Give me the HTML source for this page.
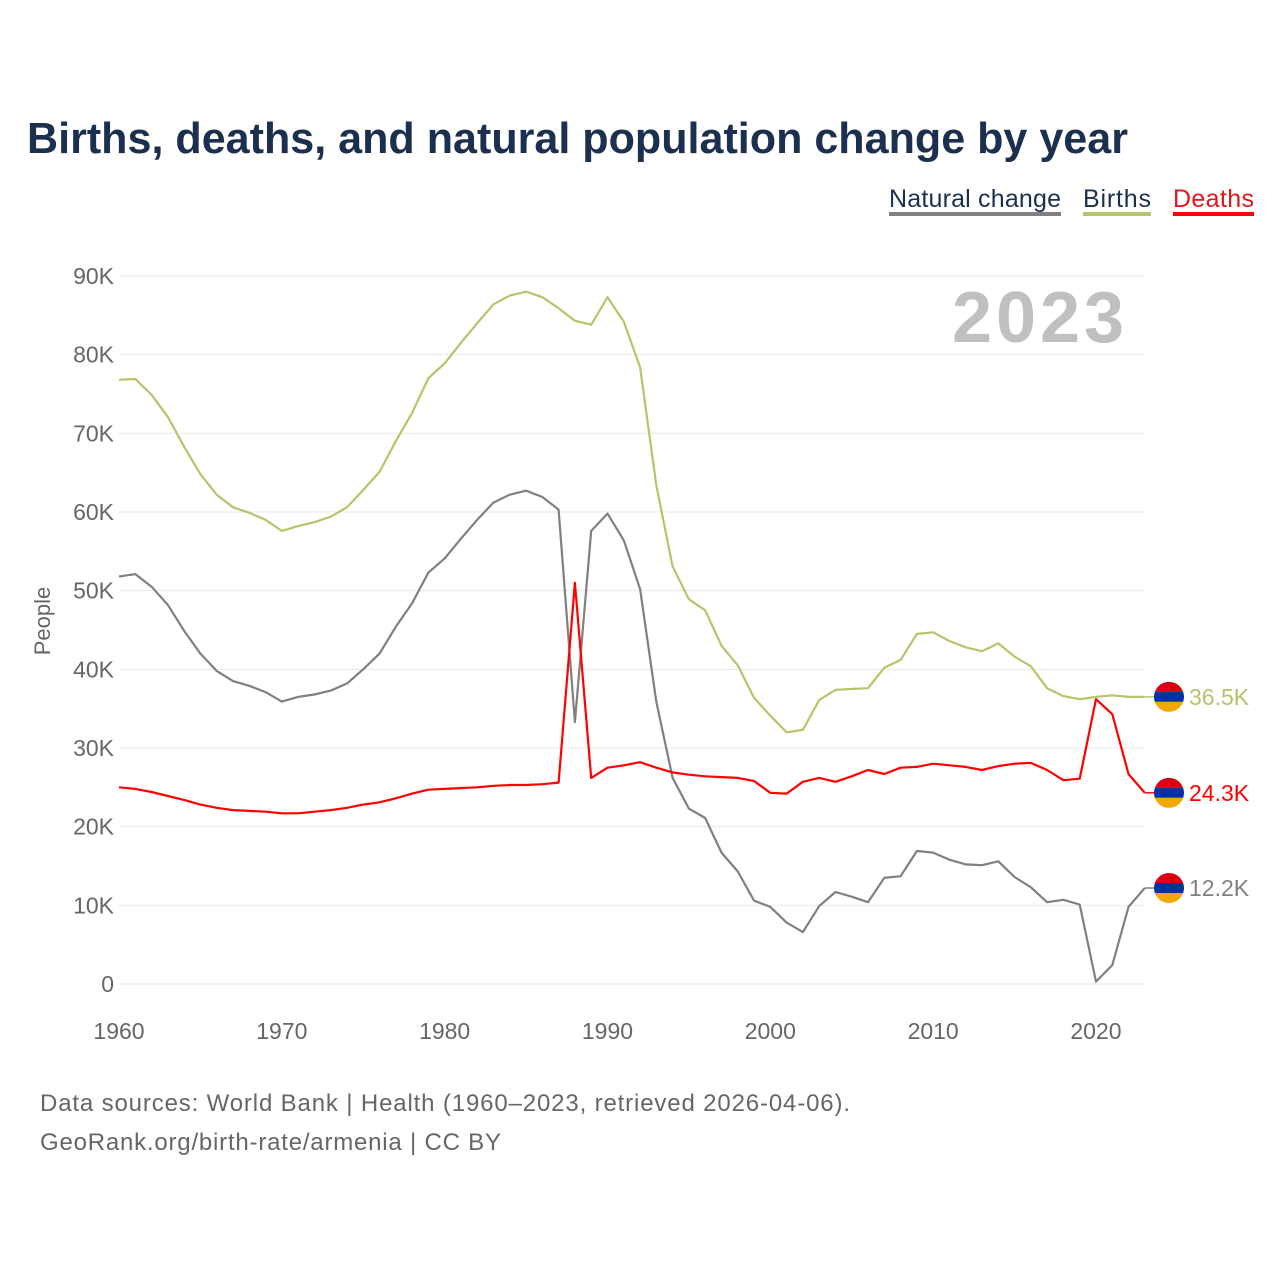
<!DOCTYPE html>
<html><head><meta charset="utf-8"><style>
body{margin:0;background:#fff;font-family:"Liberation Sans",sans-serif}
svg text{font-family:"Liberation Sans",sans-serif}
</style></head><body>
<svg id="chart" width="1280" height="1280" xmlns="http://www.w3.org/2000/svg">
<text x="27" y="153" font-size="44" font-weight="bold" fill="#1b2f4e" textLength="1101" lengthAdjust="spacingAndGlyphs">Births, deaths, and natural population change by year</text>
<g font-size="25">
<g><text x="889" y="207" fill="#1b2f4e" textLength="172">Natural change</text><rect x="889" y="212" width="172" height="4" fill="#808080"/></g>
<g><text x="1083" y="207" fill="#1b2f4e" textLength="68">Births</text><rect x="1083" y="212" width="68" height="4" fill="#b5c56a"/></g>
<g><text x="1173" y="207" fill="#e8141b" textLength="81">Deaths</text><rect x="1173" y="212" width="81" height="4" fill="#ff0000"/></g>
</g>
<g id="grid"></g>
<g id="yticks" font-size="23" fill="#666"></g>
<g id="xticks" font-size="23" fill="#666"></g>
<text transform="translate(50,621) rotate(-90)" text-anchor="middle" font-size="22" fill="#666">People</text>
<text x="1124" y="342" text-anchor="end" font-size="72" font-weight="bold" fill="#c0c0c0" textLength="172">2023</text>
<g id="series"></g>
<g id="ends"></g>
<text x="40" y="1111" font-size="24" fill="#666" textLength="810">Data sources: World Bank | Health (1960–2023, retrieved 2026-04-06).</text>
<text x="40" y="1150" font-size="24" fill="#666" textLength="461">GeoRank.org/birth-rate/armenia | CC BY</text>
</svg>
<script>
const startYear = 1960;
const births = [76.8,76.9,74.9,72.1,68.3,64.8,62.2,60.6,59.9,59.0,57.6,58.2,58.7,59.4,60.6,62.8,65.1,69.0,72.6,77.0,78.9,81.5,84.0,86.4,87.5,88.0,87.3,85.9,84.3,83.8,87.3,84.2,78.4,63.4,53.1,48.9,47.5,43.0,40.5,36.4,34.1,32.0,32.3,36.1,37.4,37.5,37.6,40.2,41.2,44.5,44.7,43.6,42.8,42.3,43.3,41.6,40.4,37.6,36.6,36.2,36.5,36.7,36.5,36.5];
const deaths = [25.0,24.8,24.4,23.9,23.4,22.8,22.4,22.1,22.0,21.9,21.7,21.7,21.9,22.1,22.4,22.8,23.1,23.6,24.2,24.7,24.8,24.9,25.0,25.2,25.3,25.3,25.4,25.6,51.0,26.2,27.5,27.8,28.2,27.5,26.9,26.6,26.4,26.3,26.2,25.8,24.3,24.2,25.7,26.2,25.7,26.4,27.2,26.7,27.5,27.6,28.0,27.8,27.6,27.2,27.7,28.0,28.1,27.2,25.9,26.1,36.2,34.3,26.7,24.3];
const natural = [51.8,52.1,50.5,48.2,44.9,42.0,39.8,38.5,37.9,37.1,35.9,36.5,36.8,37.3,38.2,40.0,42.0,45.4,48.4,52.3,54.1,56.6,59.0,61.2,62.2,62.7,61.9,60.3,33.3,57.6,59.8,56.4,50.2,35.9,26.2,22.3,21.1,16.7,14.3,10.6,9.8,7.8,6.6,9.9,11.7,11.1,10.4,13.5,13.7,16.9,16.7,15.8,15.2,15.1,15.6,13.6,12.3,10.4,10.7,10.1,0.3,2.4,9.8,12.2];
const yTicks = [0,10,20,30,40,50,60,70,80,90];
const yTickLabels = ["0","10K","20K","30K","40K","50K","60K","70K","80K","90K"];
const xTicks = [1960,1970,1980,1990,2000,2010,2020];
const endLabels = ["36.5K","24.3K","12.2K"];

const NS="http://www.w3.org/2000/svg";
const X=y=>119+(y-1960)*16.283;
const Y=v=>984-v*7.867;
function mk(t,a,p){const e=document.createElementNS(NS,t);for(const k in a)e.setAttribute(k,a[k]);p.appendChild(e);return e;}
const grid=document.getElementById('grid'),yt=document.getElementById('yticks'),xt=document.getElementById('xticks');
yTicks.forEach((v,i)=>{
  const l=mk('line',{x1:119,x2:1144,y1:Y(v),y2:Y(v),stroke:'#e8e8e8','stroke-width':1},grid);
  
  
  const t=mk('text',{x:114,y:Y(v)+8,'text-anchor':'end'},yt);t.textContent=yTickLabels[i];
  
  
});
xTicks.forEach(v=>{
  const t=mk('text',{x:X(v),y:1039,'text-anchor':'middle'},xt);t.textContent=v;
  
  
});
const sg=document.getElementById('series');
function line(arr,col,name){
  const d=arr.map((v,i)=>(i?'L':'M')+X(startYear+i).toFixed(1)+' '+Y(v).toFixed(1)).join(' ');
  const p=mk('path',{d:d,fill:'none',stroke:col,'stroke-width':2.2,'stroke-linejoin':'round'},sg);
  
  
}
line(births,'#b5c56a','births-line');
line(natural,'#808080','natural-change-line');
line(deaths,'#ff0000','deaths-line');
const eg=document.getElementById('ends');
const lastY=startYear+births.length-1;
[[births,'#b5c56a'],[deaths,'#ff0000'],[natural,'#808080']].forEach((s,i)=>{
  const v=s[0][s[0].length-1],cy=Y(v),cx=1169;
  const g=mk('g',{},eg);
  
  
  mk('line',{x1:X(lastY),x2:cx-14,y1:cy,y2:cy,stroke:s[1],'stroke-width':1.5},g);
  const id='c'+i;
  const cp=mk('clipPath',{id:id},g);mk('circle',{cx:cx,cy:cy,r:15},cp);
  const fg=mk('g',{'clip-path':'url(#'+id+')'},g);
  mk('rect',{x:cx-15,y:cy-15,width:30,height:10,fill:'#d90012'},fg);
  mk('rect',{x:cx-15,y:cy-5,width:30,height:10,fill:'#0033a0'},fg);
  mk('rect',{x:cx-15,y:cy+5,width:30,height:10,fill:'#f2a800'},fg);
  const t=mk('text',{x:1189,y:cy+8,'font-size':23,fill:i==1?'#ff0000':(i==0?'#b5c56a':'#808080')},g);
  t.textContent=endLabels[i];
});
</script>
</body></html>
